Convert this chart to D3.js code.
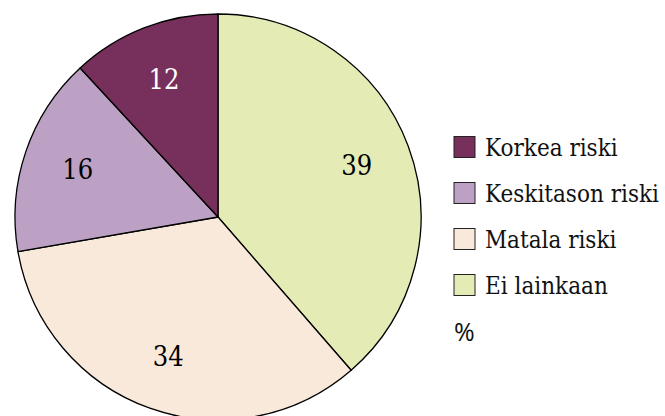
<!DOCTYPE html>
<html><head><meta charset="utf-8">
<script src="https://cdn.jsdelivr.net/npm/d3@7"></script>
<style>body{margin:0;background:#fff}svg{display:block}</style>
</head><body>
<svg id="chart" width="665" height="416"></svg>
<script>
const categories = ["Ei lainkaan", "Matala riski", "Keskitason riski", "Korkea riski"];
const values = [39, 34, 16, 12];
const colors = ["#e5ebb4", "#f9e9db", "#bca1c4", "#772f5c"];
const labelColors = ["#000", "#000", "#000", "#fff"];
const legendOrder = ["Korkea riski", "Keskitason riski", "Matala riski", "Ei lainkaan"];
const unitLabel = "%";

const svg = d3.select("#chart");
const cx = 218, cy = 217, r = 203;
const serif = "'DejaVu Serif', serif";

const color = d3.scaleOrdinal().domain(categories).range(colors);
const pie = d3.pie().sort(null).value(d => d.v);
const data = categories.map((c, i) => ({c, v: values[i], lc: labelColors[i]}));
const arcs = pie(data);
const arc = d3.arc().innerRadius(0).outerRadius(r);
const labelArc = d3.arc().innerRadius(r * 0.73).outerRadius(r * 0.73);

const g = svg.append("g").attr("transform", `translate(${cx},${cy})`);
g.selectAll("path").data(arcs).join("path")
  .attr("d", arc).attr("fill", d => color(d.data.c))
  .attr("stroke", "#000").attr("stroke-width", 1.3).attr("stroke-linejoin", "round");
g.selectAll("text").data(arcs).join("text")
  .attr("transform", d => `translate(${labelArc.centroid(d)})`)
  .attr("text-anchor", "middle").attr("dy", "0.36em")
  .attr("font-family", serif).attr("font-stretch", "condensed").attr("font-size", 27)
  .attr("fill", d => d.data.lc).text(d => d.data.v);

const legY = d3.scalePoint().domain(legendOrder).range([147, 285]);
const leg = svg.append("g").selectAll("g").data(legendOrder).join("g")
  .attr("transform", d => `translate(454,${legY(d)})`);
leg.append("rect").attr("x", 0).attr("y", -10.5).attr("width", 21).attr("height", 21)
  .attr("fill", d => color(d)).attr("stroke", "#222").attr("stroke-width", 1);
leg.append("text").attr("x", 31).attr("dy", "0.36em")
  .attr("font-family", serif).attr("font-stretch", "condensed").attr("font-size", 24)
  .attr("fill", "#111").text(d => d);
svg.append("text").attr("x", 454).attr("y", 332).attr("dy", "0.36em")
  .attr("font-family", "'Open Sans', sans-serif").attr("font-size", 25)
  .attr("font-weight", 500)
  .attr("fill", "#111").text(unitLabel);
</script>
</body></html>
